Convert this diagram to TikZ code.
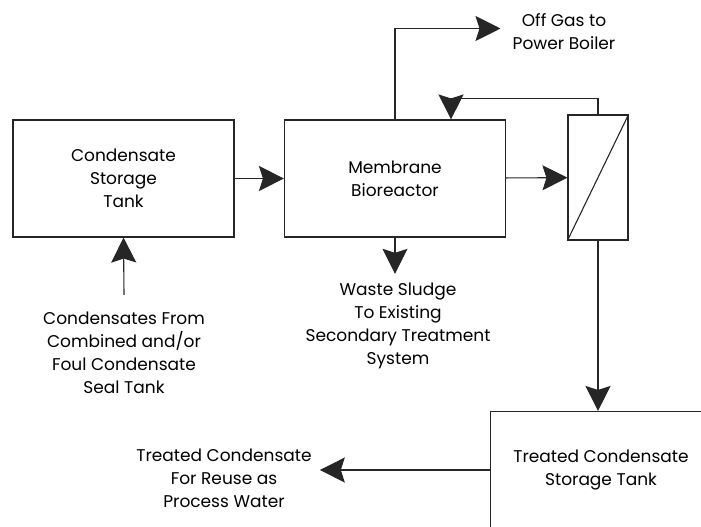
\documentclass[tikz,border=0pt]{standalone}
\usepackage{fontspec}
\setmainfont{Poppins}
\usepackage{xcolor}
\usepackage{tikz}
\usetikzlibrary{arrows.meta,positioning,calc}

\tikzset{
    unit/.style={draw=black!85, line width=1.1pt, minimum width=221pt, minimum height=117pt, align=center, inner sep=0pt},
    label/.style={align=center, inner sep=2pt},
    flow/.style={draw=black!85, line width=1.1pt, -{Stealth[length=25pt, width=25pt, inset=4pt]}}
}

\begin{document}
\begin{tikzpicture}[x=1pt, y=-1pt, font=\fontsize{17}{23}\selectfont]
    \useasboundingbox (0,0) rectangle (701,527);
    \clip (0,0) rectangle (701,527);

    % Process units
    \node[unit] (cst) at (123.5,178.5) {Condensate\\Storage\\Tank};
    \node[unit] (mbr) at (395,178.5) {Membrane\\Bioreactor};
    \node[draw=black!85, line width=1.1pt, minimum width=60pt, minimum height=125pt, inner sep=0pt] (mod) at (598,177.5) {};
    \draw[black!85, line width=1.1pt] (mod.south west) -- (mod.north east);
    \node[unit] (tct) at (601,470) {Treated Condensate\\Storage Tank};

    % Streams in and out
    \node[label] (src) at (124,353) {Condensates From\\Combined and/or\\Foul Condensate\\Seal Tank};
    \node[label] (gas) at (564,31.5) {Off Gas to\\Power Boiler};
    \node[label] (waste) at (398,326) {Waste Sludge\\To Existing\\Secondary Treatment\\System};
    \node[label] (reuse) at (224,478) {Treated Condensate\\For Reuse as\\Process Water};

    % Connectors
    \draw[flow] ([yshift=15pt]src.north) -- (cst.south);
    \draw[flow] (cst) -- (mbr);
    \draw[flow] (mbr) -- (mod);
    \draw[flow] (mbr.north) |- ([xshift=-10pt,yshift=3pt]gas.west);
    \draw[flow] (mod.north) -- ++(0,-16) -| ([xshift=56pt]mbr.north);
    \draw[flow] (mbr.south) -- ([yshift=7pt]mbr.south |- waste.north);
    \draw[flow] (mod.south) -- (mod.south |- tct.north);
    \draw[flow] (tct.west) -- ([xshift=6pt]tct.west -| reuse.east);
\end{tikzpicture}
\end{document}
